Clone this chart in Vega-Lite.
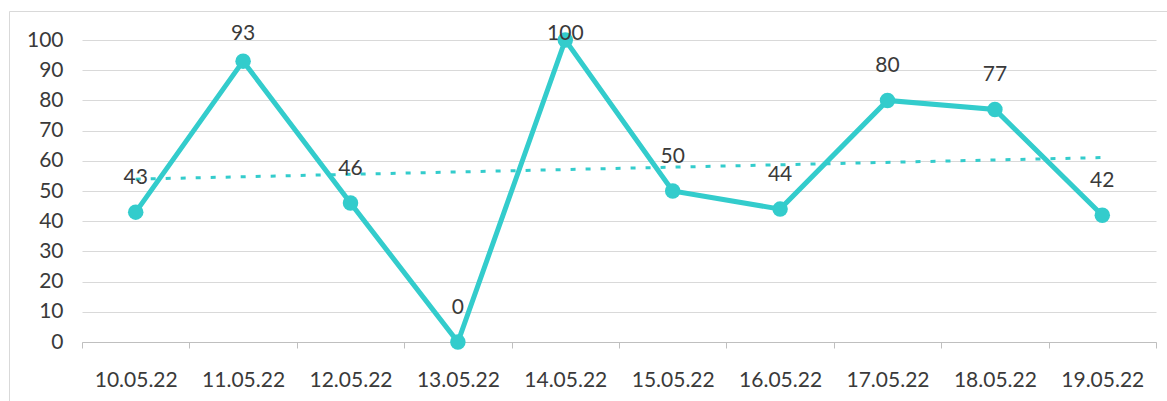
{
  "$schema": "https://vega.github.io/schema/vega-lite/v6.json",
  "width": 1158,
  "height": 390,
  "autosize": {"type": "none"},
  "padding": {"left": 9, "top": 11, "right": 0, "bottom": 0},
  "background": "white",
  "config": {
    "view": {"stroke": "#d9d9d9", "strokeWidth": 1},
    "font": "Lato",
    "text": {"font": "Lato"}
  },
  "datasets": {
    "daily": [
      {"i": 1, "date": "10.05.22", "value": 43},
      {"i": 2, "date": "11.05.22", "value": 93},
      {"i": 3, "date": "12.05.22", "value": 46},
      {"i": 4, "date": "13.05.22", "value": 0},
      {"i": 5, "date": "14.05.22", "value": 100},
      {"i": 6, "date": "15.05.22", "value": 50},
      {"i": 7, "date": "16.05.22", "value": 44},
      {"i": 8, "date": "17.05.22", "value": 80},
      {"i": 9, "date": "18.05.22", "value": 77},
      {"i": 10, "date": "19.05.22", "value": 42}
    ]
  },
  "data": {"name": "daily"},
  "encoding": {
    "x": {
      "field": "date",
      "type": "ordinal",
      "sort": null,
      "scale": {
        "type": "band",
        "domain": ["10.05.22", "11.05.22", "12.05.22", "13.05.22", "14.05.22", "15.05.22", "16.05.22", "17.05.22", "18.05.22", "19.05.22"],
        "range": [73, 1147],
        "paddingInner": 0,
        "paddingOuter": 0
      },
      "axis": {
        "title": null,
        "orient": "bottom",
        "offset": -59,
        "tickBand": "extent",
        "grid": false,
        "domainColor": "#bfbfbf",
        "tickColor": "#bfbfbf",
        "tickSize": 6,
        "labelAngle": 0,
        "labelFontSize": 21,
        "labelColor": "#3a3a3a",
        "labelPadding": 21
      }
    },
    "y": {
      "field": "value",
      "type": "quantitative",
      "scale": {"domain": [0, 100], "range": [331, 29], "nice": false, "zero": true},
      "axis": {
        "title": null,
        "orient": "left",
        "offset": -73,
        "values": [0, 10, 20, 30, 40, 50, 60, 70, 80, 90, 100],
        "domain": false,
        "ticks": false,
        "grid": true,
        "gridColor": "#d9d9d9",
        "gridWidth": 1,
        "labelFontSize": 21,
        "labelColor": "#3a3a3a",
        "labelPadding": 19
      }
    }
  },
  "layer": [
    {
      "transform": [
        {"regression": "value", "on": "i"},
        {"lookup": "i", "from": {"data": {"name": "daily"}, "key": "i", "fields": ["date"]}}
      ],
      "mark": {"type": "line", "color": "#33cccc", "strokeWidth": 3, "strokeDash": [5, 10]}
    },
    {
      "mark": {"type": "line", "color": "#33cccc", "strokeWidth": 5}
    },
    {
      "mark": {"type": "point", "filled": true, "size": 240, "color": "#33cccc", "opacity": 1}
    },
    {
      "mark": {
        "type": "text",
        "fontSize": 21,
        "color": "#3a3a3a",
        "baseline": "middle",
        "dy": {"expr": "datum.value >= 100 ? -6 : (datum.value > 90 ? -27 : -34)"}
      },
      "encoding": {"text": {"field": "value", "type": "quantitative"}}
    }
  ]
}
